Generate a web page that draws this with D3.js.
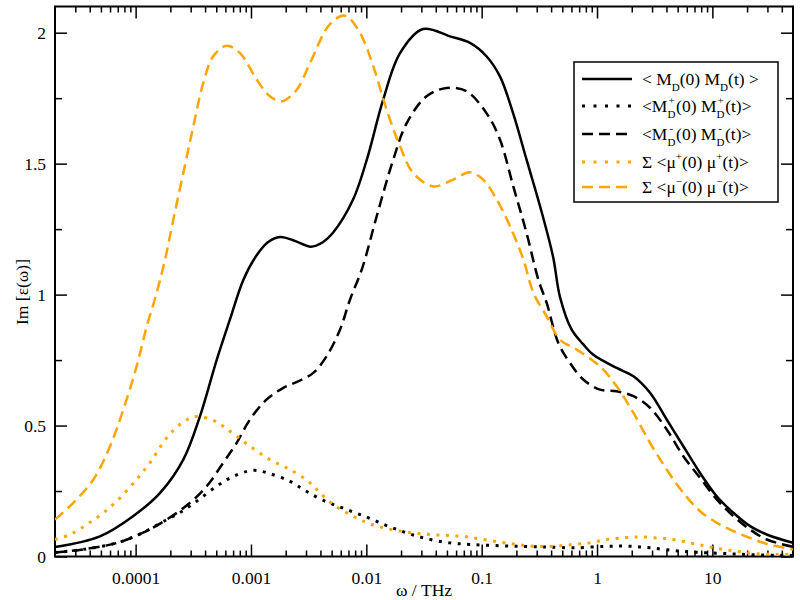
<!DOCTYPE html>
<html>
<head>
<meta charset="utf-8">
<script src="https://cdn.jsdelivr.net/npm/d3@7"></script>
<style>
  body { margin: 0; background: #fff; }
  svg text { font-family: "Liberation Serif", "Times New Roman", Times, serif; }
</style>
</head>
<body>
<div id="chart"></div>
<script>
// series: [omega (THz), Im eps]
const mdTotal = [
  [2e-5, 0.036], [4.9e-5, 0.077], [9.5e-5, 0.154], [1.63e-4, 0.243], [2.59e-4, 0.37],
  [3.61e-4, 0.535], [5.04e-4, 0.75], [6.57e-4, 0.905], [8.6e-4, 1.057], [1.12e-3, 1.15],
  [1.4e-3, 1.2], [1.79e-3, 1.22], [2.4e-3, 1.205], [3.3e-3, 1.183], [4.2e-3, 1.2],
  [5.14e-3, 1.236], [7.66e-3, 1.362], [1.01e-2, 1.515], [1.4e-2, 1.744], [1.96e-2, 1.922],
  [3.1e-2, 2.014], [5.31e-2, 1.986], [7.92e-2, 1.961], [0.11, 1.91], [0.144, 1.833],
  [0.188, 1.69], [0.245, 1.515], [0.321, 1.337], [0.415, 1.146], [0.478, 0.99],
  [0.603, 0.866], [0.76, 0.81], [0.929, 0.77], [1.48, 0.72], [2.07, 0.688], [2.88, 0.625],
  [4.02, 0.523], [5.6, 0.421], [7.82, 0.319], [10.9, 0.23], [15.2, 0.167],
  [21.2, 0.116], [29.6, 0.084], [50, 0.052]
];

const mdPlus = [
  [2e-5, 0.015], [3.5e-5, 0.027], [6.9e-5, 0.052], [1.16e-4, 0.091], [1.86e-4, 0.141],
  [2.43e-4, 0.168], [3.38e-4, 0.211], [5.04e-4, 0.268], [7.03e-4, 0.306], [1.05e-3, 0.329],
  [1.46e-3, 0.316], [2.18e-3, 0.287], [3.0e-3, 0.25], [4.2e-3, 0.215], [6.53e-3, 0.182],
  [1.01e-2, 0.15], [1.5e-2, 0.118], [2.24e-2, 0.09], [3.33e-2, 0.068], [5.31e-2, 0.052],
  [7.92e-2, 0.046], [0.126, 0.042], [0.201, 0.039], [0.31, 0.037], [0.391, 0.036],
  [0.622, 0.033], [1.21, 0.039], [1.93, 0.039], [2.88, 0.033], [4.58, 0.023],
  [7.31, 0.016], [13.3, 0.011], [24.2, 0.006], [50, 0.004]
];

const mdMinus = [
  [2e-5, 0.015], [3.5e-5, 0.027], [6.9e-5, 0.052], [1.16e-4, 0.091], [1.86e-4, 0.141],
  [2.96e-4, 0.205], [4.13e-4, 0.268], [5.75e-4, 0.358], [7.52e-4, 0.434], [9.8e-4, 0.523],
  [1.37e-3, 0.6], [1.91e-3, 0.644], [2.66e-3, 0.672], [3.47e-3, 0.701], [4.53e-3, 0.765],
  [5.91e-3, 0.866], [7.22e-3, 0.981], [9.2e-3, 1.1], [1.23e-2, 1.299], [1.71e-2, 1.515],
  [2.24e-2, 1.655], [3.33e-2, 1.757], [4.98e-2, 1.789], [7.41e-2, 1.776], [0.11, 1.693],
  [0.144, 1.592], [0.188, 1.413], [0.245, 1.235], [0.31, 1.057], [0.366, 0.968],
  [0.461, 0.816], [0.583, 0.739], [0.76, 0.676], [1.06, 0.637], [1.48, 0.631],
  [2.07, 0.612], [2.88, 0.568], [4.02, 0.485], [5.6, 0.383], [7.82, 0.3],
  [10.9, 0.218], [15.2, 0.154], [21.2, 0.103], [29.6, 0.065], [50, 0.037]
];

const muPlus = [
  [2e-5, 0.065], [2.7e-5, 0.084], [3.77e-5, 0.122], [5.25e-5, 0.167], [7.33e-5, 0.224],
  [1.02e-4, 0.294], [1.33e-4, 0.358], [1.86e-4, 0.453], [2.59e-4, 0.514], [3.38e-4, 0.535],
  [4.71e-4, 0.52], [5.75e-4, 0.497], [7.52e-4, 0.459], [9.8e-4, 0.421], [1.46e-3, 0.37],
  [2.18e-3, 0.332], [3.14e-3, 0.287], [3.71e-3, 0.256], [5.17e-3, 0.198], [7.22e-3, 0.16],
  [1.01e-2, 0.129], [1.4e-2, 0.11], [1.96e-2, 0.097], [2.73e-2, 0.088], [3.81e-2, 0.083],
  [5.31e-2, 0.08], [7.41e-2, 0.075], [0.103, 0.065], [0.144, 0.055], [0.201, 0.046],
  [0.281, 0.039], [0.418, 0.039], [0.622, 0.046], [0.869, 0.052], [1.21, 0.065],
  [1.69, 0.071], [2.36, 0.075], [3.3, 0.071], [4.58, 0.065], [6.4, 0.052],
  [8.93, 0.039], [12.5, 0.027], [17.4, 0.018], [24.2, 0.011], [50, 0.007]
];

const muMinus = [
  [2e-5, 0.141], [2.88e-5, 0.205], [4.3e-5, 0.294], [6e-5, 0.421], [7.82e-5, 0.561],
  [1.02e-4, 0.726], [1.25e-4, 0.879], [1.52e-4, 1.006], [1.8e-4, 1.134], [2.12e-4, 1.286],
  [2.59e-4, 1.464], [3.16e-4, 1.642], [3.86e-4, 1.808], [4.71e-4, 1.91], [6.15e-4, 1.95],
  [8.03e-4, 1.922], [1.12e-3, 1.821], [1.46e-3, 1.757], [1.85e-3, 1.738], [2.49e-3, 1.782],
  [3.25e-3, 1.884], [4.84e-3, 2.033], [6.53e-3, 2.065], [8.81e-3, 1.999], [1.15e-2, 1.871],
  [1.5e-2, 1.706], [1.96e-2, 1.566], [2.55e-2, 1.464], [3.81e-2, 1.413], [5.67e-2, 1.439],
  [7.92e-2, 1.467], [0.103, 1.439], [0.135, 1.363], [0.176, 1.261], [0.23, 1.134],
  [0.281, 1.006], [0.366, 0.917], [0.478, 0.828], [0.667, 0.79], [1.06, 0.726],
  [1.48, 0.65], [2.07, 0.548], [2.88, 0.434], [4.02, 0.332], [5.6, 0.243],
  [7.82, 0.173], [10.9, 0.129], [15.2, 0.097], [21.2, 0.071], [29.6, 0.048], [50, 0.027]
];

const xTicks = [1e-4, 1e-3, 1e-2, 0.1, 1, 10];
const xTickLabels = ["0.0001", "0.001", "0.01", "0.1", "1", "10"];
const yTicks = [0, 0.5, 1, 1.5, 2];
const yTickLabels = ["0", "0.5", "1", "1.5", "2"];
const yMinorTicks = [0.25, 0.75, 1.25, 1.75];

const w = 800;
const h = 600;
const pL = 55, pR = 793, pT = 6.5, pB = 556.5;

const orange = "#ffa500";
const serif = "'Liberation Serif', 'Times New Roman', Times, serif";

const x = d3.scaleLog().domain([2e-5, 50]).range([pL, pR]);
const y = d3.scaleLinear().domain([0, 2.1]).range([pB, pT]);

// minor ticks 2..9 in every decade
const xMinor = [];
for (let e = -5; e <= 1; e++) {
  for (let k = 2; k <= 9; k++) {
    const v = k * Math.pow(10, e);
    if (v > 2e-5 && v < 50) xMinor.push(v);
  }
}

const svg = d3.select("#chart").append("svg")
  .attr("width", w)
  .attr("height", h)
  .style("font-family", serif);

svg.append("defs").append("clipPath").attr("id", "clip")
  .append("rect")
  .attr("x", pL).attr("y", pT)
  .attr("width", pR - pL).attr("height", pB - pT);

// axes (ticks point inward)
const fmtX = (d) => xTickLabels[xTicks.indexOf(d)];
const fmtY = (d) => yTickLabels[yTicks.indexOf(d)];

function styleAxis(g) {
  g.select(".domain").remove();
  g.selectAll("line").attr("stroke", "#000").attr("stroke-width", 1.5);
  g.selectAll("text").attr("font-size", 17.5).attr("fill", "#000")
    .attr("font-family", serif);
}

svg.append("g")
  .attr("transform", "translate(0," + pB + ")")
  .call(d3.axisBottom(x).tickValues(xTicks).tickFormat(fmtX).tickSizeInner(-12).tickSizeOuter(0).tickPadding(15))
  .call(styleAxis);
svg.append("g")
  .attr("transform", "translate(0," + pB + ")")
  .call(d3.axisBottom(x).tickValues(xMinor).tickFormat("").tickSizeInner(-6).tickSizeOuter(0))
  .call(styleAxis);
svg.append("g")
  .attr("transform", "translate(0," + pT + ")")
  .call(d3.axisTop(x).tickValues(xTicks).tickFormat("").tickSizeInner(-12).tickSizeOuter(0))
  .call(styleAxis);
svg.append("g")
  .attr("transform", "translate(0," + pT + ")")
  .call(d3.axisTop(x).tickValues(xMinor).tickFormat("").tickSizeInner(-6).tickSizeOuter(0))
  .call(styleAxis);

svg.append("g")
  .attr("transform", "translate(" + pL + ",0)")
  .call(d3.axisLeft(y).tickValues(yTicks).tickFormat(fmtY).tickSizeInner(-12).tickSizeOuter(0).tickPadding(9))
  .call(styleAxis);
svg.append("g")
  .attr("transform", "translate(" + pL + ",0)")
  .call(d3.axisLeft(y).tickValues(yMinorTicks).tickFormat("").tickSizeInner(-7).tickSizeOuter(0))
  .call(styleAxis);
svg.append("g")
  .attr("transform", "translate(" + pR + ",0)")
  .call(d3.axisRight(y).tickValues(yTicks).tickFormat("").tickSizeInner(-12).tickSizeOuter(0))
  .call(styleAxis);
svg.append("g")
  .attr("transform", "translate(" + pR + ",0)")
  .call(d3.axisRight(y).tickValues(yMinorTicks).tickFormat("").tickSizeInner(-7).tickSizeOuter(0))
  .call(styleAxis);

// frame
svg.append("rect")
  .attr("x", pL).attr("y", pT)
  .attr("width", pR - pL).attr("height", pB - pT)
  .attr("fill", "none").attr("stroke", "#000").attr("stroke-width", 2);

// axis titles
svg.append("text")
  .attr("x", (pL + pR) / 2).attr("y", 596)
  .attr("text-anchor", "middle").attr("font-size", 17.5)
  .text("ω / THz");
svg.append("text")
  .attr("transform", "translate(28,292) rotate(-90)")
  .attr("text-anchor", "middle").attr("font-size", 17.5)
  .text("Im [ε(ω)]");

// curves
const line = d3.line()
  .x((d) => x(d[0]))
  .y((d) => y(d[1]))
  .curve(d3.curveCatmullRom.alpha(0.5));

const series = [
  { data: mdTotal, color: "#000", dash: null },
  { data: mdPlus, color: "#000", dash: "3,6.5" },
  { data: mdMinus, color: "#000", dash: "11,6" },
  { data: muPlus, color: orange, dash: "3,6.5" },
  { data: muMinus, color: orange, dash: "11,6" }
];

const plot = svg.append("g").attr("clip-path", "url(#clip)");
plot.selectAll("path")
  .data(series)
  .enter()
  .append("path")
  .attr("d", (d) => line(d.data))
  .attr("fill", "none")
  .attr("stroke", (d) => d.color)
  .attr("stroke-width", (d) => d.dash === "3,6.5" ? 3 : 2.5)
  .attr("stroke-dasharray", (d) => d.dash);

// legend (superscripts stacked over the D subscripts)
const legendRows = [
  [{ t: "< M" }, { t: "D", k: "sub" }, { t: "(0) M" }, { t: "D", k: "sub" }, { t: "(t) >" }],
  [{ t: "<M" }, { t: "D", k: "sub" }, { t: "+", k: "sup", dx: -7 }, { t: "(0) M", dx: 1.5 },
   { t: "D", k: "sub" }, { t: "+", k: "sup", dx: -7 }, { t: "(t)>", dx: 1.5 }],
  [{ t: "<M" }, { t: "D", k: "sub" }, { t: "-", k: "sup", dx: -6 }, { t: "(0) M", dx: 3 },
   { t: "D", k: "sub" }, { t: "-", k: "sup", dx: -6 }, { t: "(t)>", dx: 3 }],
  [{ t: "Σ <μ" }, { t: "+", k: "sup" }, { t: "(0) μ" }, { t: "+", k: "sup" }, { t: "(t)>" }],
  [{ t: "Σ <μ" }, { t: "−", k: "sup" }, { t: "(0) μ" }, { t: "−", k: "sup" }, { t: "(t)>" }]
];

const legend = svg.append("g");
legend.append("rect")
  .attr("x", 574).attr("y", 62)
  .attr("width", 204).attr("height", 140)
  .attr("fill", "#fff").attr("stroke", "#000").attr("stroke-width", 1.5);

const rowY = [79, 106, 134, 162, 187];

legend.selectAll(".legLine")
  .data(series)
  .enter()
  .append("line")
  .attr("class", "legLine")
  .attr("x1", 582).attr("x2", 632)
  .attr("y1", (d, i) => rowY[i]).attr("y2", (d, i) => rowY[i])
  .attr("stroke", (d) => d.color)
  .attr("stroke-width", (d) => d.dash === "3,6.5" ? 3 : 2.5)
  .attr("stroke-dasharray", (d) => d.dash === "3,6.5" ? "3,8.5" : d.dash);

legendRows.forEach((parts, i) => {
  const txt = legend.append("text")
    .attr("x", 642).attr("y", rowY[i] + 6)
    .attr("font-size", 17.5);
  let shift = 0;
  parts.forEach((p) => {
    const target = p.k === "sub" ? 5.5 : p.k === "sup" ? -8 : 0;
    const ts = txt.append("tspan").text(p.t).attr("dy", target - shift);
    if (p.k) ts.attr("font-size", 11);
    if (p.dx) ts.attr("dx", p.dx);
    shift = target;
  });
});
</script>
</body>
</html>
